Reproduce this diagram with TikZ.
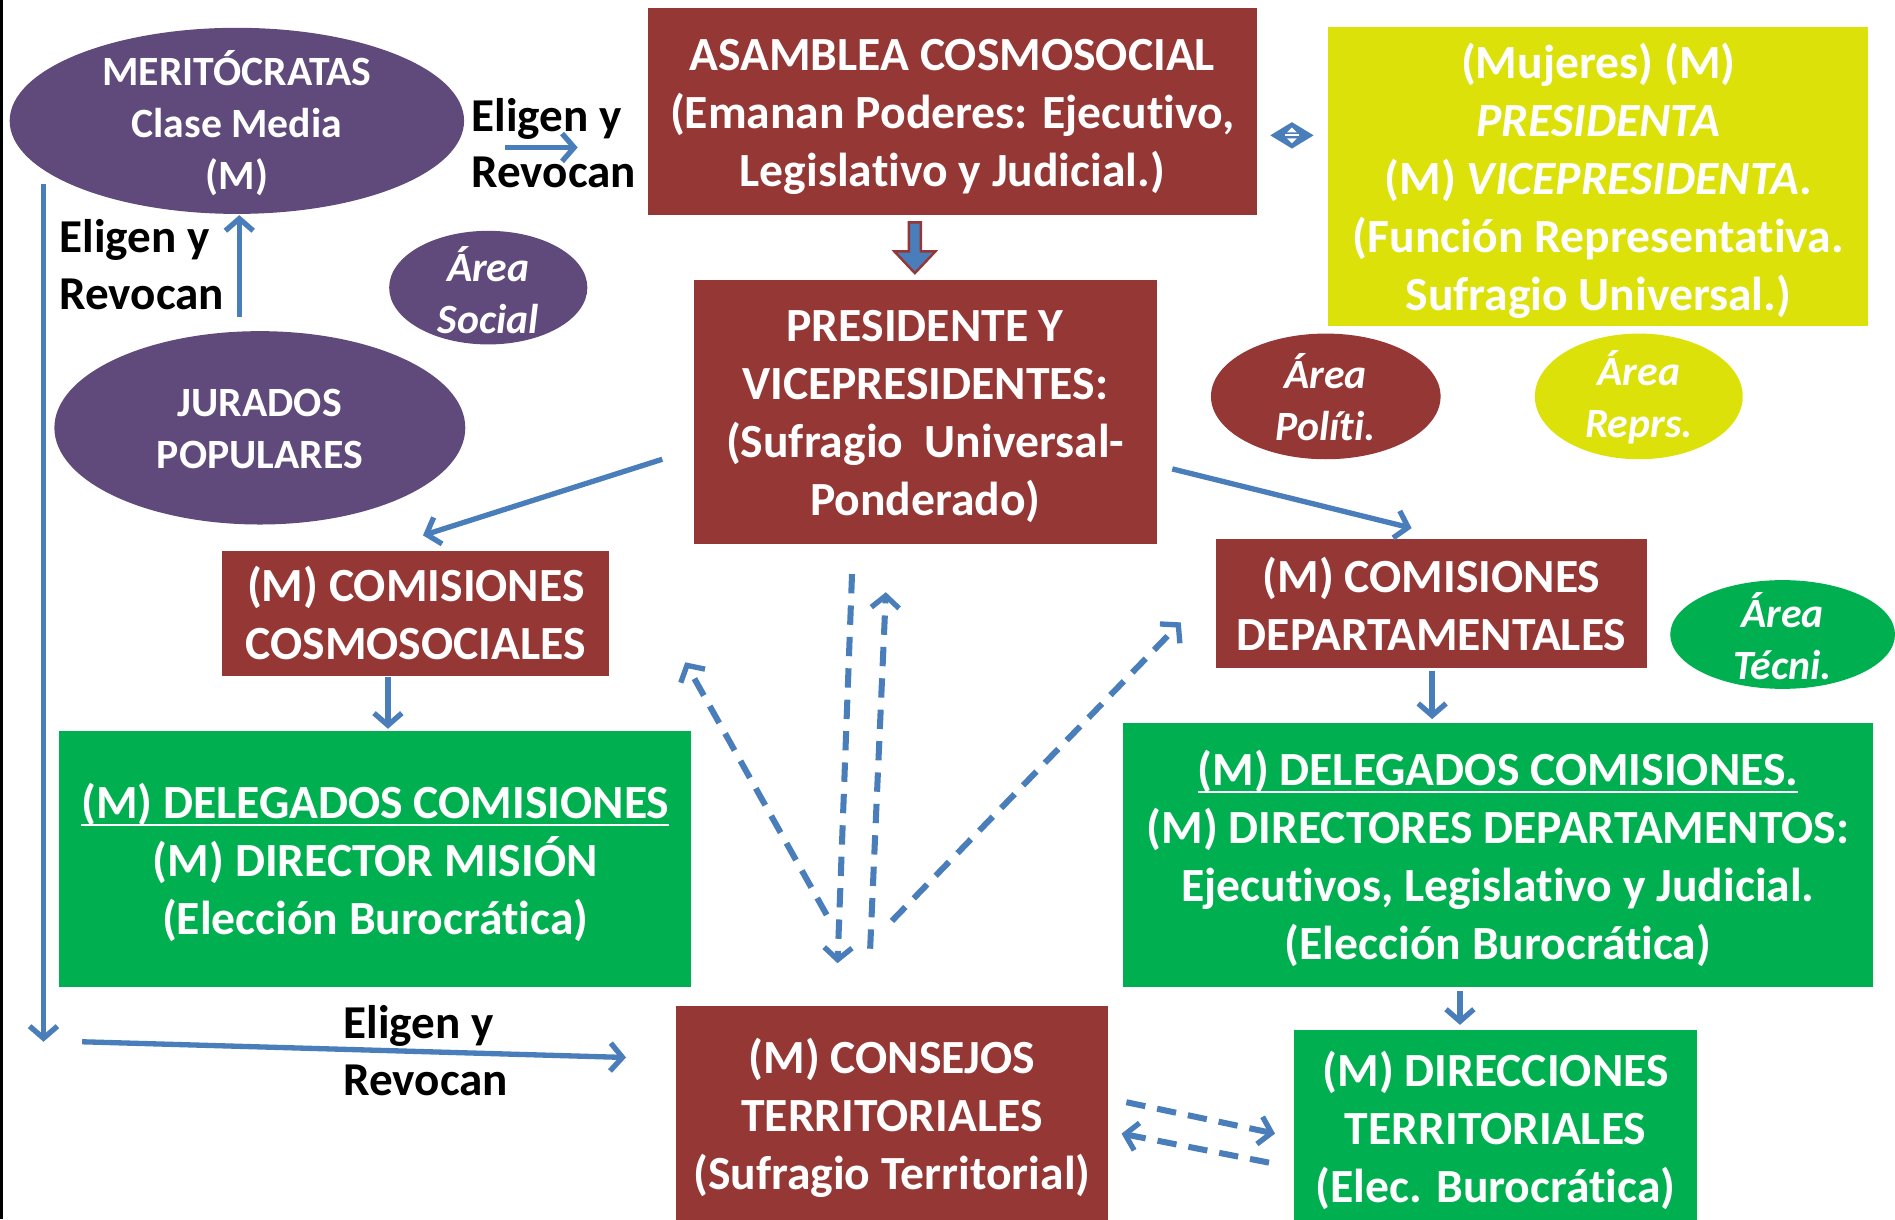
\documentclass[tikz,border=0pt]{standalone}
\usepackage{fontspec}
\setmainfont{Carlito}[Ligatures=NoCommon]
\usetikzlibrary{shapes.geometric,arrows.meta}
\definecolor{brownc}{HTML}{953735}
\definecolor{purplec}{HTML}{604A7B}
\definecolor{greenc}{HTML}{00B050}
\definecolor{yellowc}{HTML}{DCE10A}
\definecolor{bluec}{HTML}{4A7EBB}
\newcommand\myul[1]{\setbox0\hbox{#1}\rlap{\rule[-6pt]{\wd0}{2pt}}\box0}
\begin{document}
\begin{tikzpicture}[x=1pt,y=-1pt,
  box/.style={rectangle, inner sep=0pt, draw=none},
  brownbox/.style={box, fill=brownc},
  greenbox/.style={box, fill=greenc},
  yellowbox/.style={box, fill=yellowc},
  btext/.style={inner sep=0pt, align=center, text=white, font=\bfseries\fontsize{39.4}{48}\selectfont},
  ell/.style={ellipse, inner sep=0pt, draw=none},
  etext/.style={inner sep=0pt, align=center, text=white, font=\bfseries\fontsize{34.5}{43}\selectfont},
  lbl/.style={font=\bfseries\fontsize{39}{47}\selectfont, align=left, anchor=west, inner sep=0pt, text=black},
  arr/.style={draw=bluec, line width=4.4pt, -{Straight Barb[length=10pt,width=23pt,line width=4.4pt]}},
  dasharr/.style={arr, line width=5pt, dash pattern=on 16pt off 10pt}
]
\useasboundingbox (0,0) rectangle (1568,1009);
\fill[white] (0,0) rectangle (1568,1009);
\fill[black] (0,0) rectangle (2.5,1009);

% ellipses
\node[ell, fill=purplec, minimum width=376pt, minimum height=154pt] (merit) at (196,100) {};
\node[etext] (merit-t) at ([yshift=-2pt]merit.center) {MERITÓCRATAS\\Clase Media\\(M)};
\node[ell, fill=purplec, minimum width=164pt, minimum height=94pt] (asocial) at (404,238) {};
\node[etext] (asocial-t) at ([yshift=-2pt]asocial.center) {\itshape Área\\\itshape Social};
\node[ell, fill=purplec, minimum width=340pt, minimum height=160pt] (jurados) at (215,354) {};
\node[etext] (jurados-t) at ([yshift=-1pt]jurados.center) {JURADOS\\POPULARES};
\node[ell, fill=brownc, minimum width=190pt, minimum height=104pt] (apol) at (1097,328) {};
\node[etext] (apol-t) at ([yshift=-1pt]apol.center) {\itshape Área\\\itshape Políti.};
\node[ell, fill=yellowc, minimum width=172pt, minimum height=104pt] (arepr) at (1356,328) {};
\node[etext] (arepr-t) at ([yshift=-1pt]arepr.center) {\itshape Área\\\itshape Reprs.};
\node[ell, fill=greenc, minimum width=186pt, minimum height=90pt] (atec) at (1475,525) {};
\node[etext] (atec-t) at ([yshift=-1pt]atec.center) {\itshape Área\\\itshape Técni.};

% boxes
\node[brownbox, minimum width=504pt, minimum height=171pt] (asam) at (788,92.5) {};
\node[btext] (asam-t) at ([yshift=-4pt]asam.center) {ASAMBLEA COSMOSOCIAL\\(Emanan Poderes: Ejecutivo,\\Legislativo y Judicial.)};
\node[yellowbox, minimum width=447pt, minimum height=248pt] (yel) at (1322.5,146) {};
\node[btext] (yel-t) at ([yshift=-4pt]yel.center) {(Mujeres) (M)\\\textit{PRESIDENTA}\\(M) \textit{VICEPRESIDENTA}.\\(Función Representativa.\\Sufragio Universal.)};
\node[brownbox, minimum width=383pt, minimum height=218pt] (pres) at (765.5,341) {};
\node[btext] (pres-t) at ([yshift=-4pt]pres.center) {PRESIDENTE Y\\VICEPRESIDENTES:\\(Sufragio\ \ Universal-\\Ponderado)};
\node[brownbox, minimum width=320pt, minimum height=103pt] (cosmo) at (344,507.5) {};
\node[btext] (cosmo-t) at (cosmo.center) {(M) COMISIONES\\COSMOSOCIALES};
\node[brownbox, minimum width=357pt, minimum height=107pt] (dept) at (1184.5,499.5) {};
\node[btext] (dept-t) at (dept.center) {(M) COMISIONES\\DEPARTAMENTALES};
\node[greenbox, minimum width=523pt, minimum height=212pt] (greenL) at (310.5,711) {};
\node[btext] (greenL-t) at ([yshift=-3pt]greenL.center) {\myul{(M) DELEGADOS COMISIONES}\\(M) DIRECTOR MISIÓN\\(Elección Burocrática)};
\node[greenbox, minimum width=621pt, minimum height=219pt] (greenR) at (1239.5,707.5) {};
\node[btext] (greenR-t) at ([yshift=-3pt]greenR.center) {\myul{(M) DELEGADOS COMISIONES.}\\(M) DIRECTORES DEPARTAMENTOS:\\Ejecutivos, Legislativo y Judicial.\\(Elección Burocrática)};
\node[brownbox, minimum width=358pt, minimum height=180pt] (consejos) at (738,922) {};
\node[btext] (consejos-t) at ([yshift=-3pt]consejos.center) {(M) CONSEJOS\\TERRITORIALES\\(Sufragio Territorial)};
\node[greenbox, minimum width=333pt, minimum height=163pt] (direc) at (1237.5,933.5) {};
\node[btext] (direc-t) at ([yshift=-2pt]direc.center) {(M) DIRECCIONES\\TERRITORIALES\\(Elec. Burocrática)};

% labels
\node[lbl] (l1) at (390,118.5) {Eligen y\\Revocan};
\node[lbl] (l2) at (49,219) {Eligen y\\Revocan};
\node[lbl] (l3) at (284,869.5) {Eligen y\\Revocan};

% double-arrow icon
\node[diamond, fill=bluec, inner sep=0pt, minimum width=36pt, minimum height=22pt] (icon) at (1069,112) {};
\draw[white, line width=1.5pt] (1063,112) -- (1075,112);
\fill[white] (1065,109.5) -- (1073,109.5) -- (1069,105.5) -- cycle;
\fill[white] (1065,114.5) -- (1073,114.5) -- (1069,118.5) -- cycle;

% block arrow asam -> pres
\coordinate (bA) at (757,184);
\filldraw[fill=bluec, draw=brownc, line width=2pt]
  ([xshift=-5pt]bA) -- ++(0,24) -- ++(-12,0) -- (757,226) -- (774,208) -- ++(-12,0) -- ([xshift=5pt]bA) -- cycle;

% coordinates for free ends
\coordinate (a1s) at (418,122);
\coordinate (a1e) at (478,122);
\coordinate (a2s) at (198,262);
\coordinate (a2e) at (198,178);
\coordinate (a3s) at (36,152);
\coordinate (a3e) at (36,862);
\coordinate (a4s) at (68,862);
\coordinate (a4e) at (518,875);
\coordinate (a5s) at (548,380);
\coordinate (a5e) at (350,443);
\coordinate (a6s) at (970,388);
\coordinate (a6e) at (1168,437);
\coordinate (a7s) at (321,560);
\coordinate (a7e) at (321,603);
\coordinate (a8s) at (1185,555);
\coordinate (a8e) at (1185,595);
\coordinate (a9s) at (1208,820);
\coordinate (a9e) at (1208,848);

\draw[arr] (a1s) -- (a1e);
\draw[arr] (a2s) -- (a2e);
\draw[arr] (a3s) -- (a3e);
\draw[arr] (a4s) -- (a4e);
\draw[arr] (a5s) -- (a5e);
\draw[arr] (a6s) -- (a6e);
\draw[arr] (a7s) -- (a7e);
\draw[arr] (a8s) -- (a8e);
\draw[arr] (a9s) -- (a9e);

% dashed
\coordinate (d1s) at (684,757);
\coordinate (d1e) at (567,548);
\coordinate (d2s) at (705,475);
\coordinate (d2e) at (693,797);
\coordinate (d3s) at (720,785);
\coordinate (d3e) at (733,490);
\coordinate (d4s) at (738,762);
\coordinate (d4e) at (977,515);
\coordinate (d5s) at (932,912);
\coordinate (d5e) at (1055,938);
\coordinate (d6s) at (1050,962);
\coordinate (d6e) at (928,938);
\draw[dasharr] (d1s) -- (d1e);
\draw[dasharr] (d2s) -- (d2e);
\draw[dasharr] (d3s) -- (d3e);
\draw[dasharr] (d4s) -- (d4e);
\draw[dasharr] (d5s) -- (d5e);
\draw[dasharr] (d6s) -- (d6e);
\end{tikzpicture}
\end{document}
